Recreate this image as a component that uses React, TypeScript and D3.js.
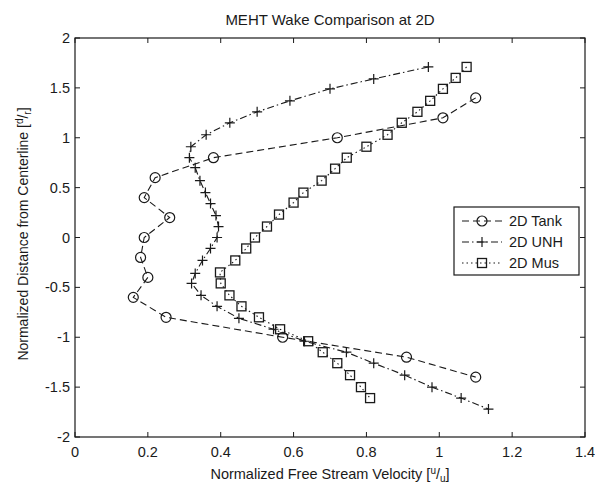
import React from 'react';
import * as d3 from 'd3';

const titleText = 'MEHT Wake Comparison at 2D';
const seriesNames = ['2D Tank', '2D UNH', '2D Mus'];

const tankX = [1.10, 1.01, 0.72, 0.38, 0.22, 0.19, 0.26, 0.19, 0.18, 0.20, 0.16, 0.25, 0.57, 0.91, 1.10];
const tankY = [1.4, 1.2, 1.0, 0.8, 0.6, 0.4, 0.2, 0.0, -0.2, -0.4, -0.6, -0.8, -1.0, -1.2, -1.4];

const unhX = [0.97, 0.82, 0.70, 0.59, 0.50, 0.425, 0.36, 0.318, 0.314, 0.33, 0.343, 0.358, 0.372, 0.387, 0.394, 0.39,
  0.372, 0.35, 0.33, 0.32, 0.346, 0.39, 0.45, 0.545, 0.63, 0.745, 0.82, 0.905, 0.98, 1.06, 1.135];
const unhY = [1.71, 1.59, 1.49, 1.37, 1.26, 1.15, 1.03, 0.91, 0.80, 0.70, 0.57, 0.45, 0.34, 0.22, 0.11, 0.0,
  -0.11, -0.23, -0.36, -0.46, -0.58, -0.69, -0.81, -0.92, -1.04, -1.15, -1.26, -1.38, -1.50, -1.61, -1.72];

const musX = [1.075, 1.045, 1.01, 0.975, 0.94, 0.897, 0.858, 0.80, 0.746, 0.714, 0.677, 0.627, 0.60, 0.56, 0.527, 0.494,
  0.47, 0.44, 0.398, 0.40, 0.424, 0.457, 0.505, 0.563, 0.64, 0.68, 0.72, 0.755, 0.785, 0.81];
const musY = [1.71, 1.60, 1.49, 1.37, 1.26, 1.15, 1.03, 0.91, 0.80, 0.69, 0.57, 0.45, 0.35, 0.23, 0.11, 0.0,
  -0.11, -0.23, -0.35, -0.46, -0.58, -0.69, -0.80, -0.92, -1.04, -1.15, -1.26, -1.38, -1.50, -1.61];

const xTicks = [0, 0.2, 0.4, 0.6, 0.8, 1, 1.2, 1.4];
const xTickLabels = ['0', '0.2', '0.4', '0.6', '0.8', '1', '1.2', '1.4'];
const yTicks = [-2, -1.5, -1, -0.5, 0, 0.5, 1, 1.5, 2];
const yTickLabels = ['-2', '-1.5', '-1', '-0.5', '0', '0.5', '1', '1.5', '2'];

const W = 595, H = 486;
const L = 75, R = 585, T = 38, B = 437;
const FONT = '"Liberation Sans", Arial, sans-serif';
const INK = '#1a1a1a';

const x = d3.scaleLinear().domain([0, 1.4]).range([L, R]);
const y = d3.scaleLinear().domain([-2, 2]).range([B, T]);

type Kind = 'circle' | 'plus' | 'square';

function Marker({ cx, cy, kind }: { cx: number; cy: number; kind: Kind }) {
  if (kind === 'circle') return <circle cx={cx} cy={cy} r={5} fill="none" stroke={INK} strokeWidth={1.2} />;
  if (kind === 'square') return <rect x={cx - 4.5} y={cy - 4.5} width={9} height={9} fill="none" stroke={INK} strokeWidth={1.3} />;
  return (
    <path d={`M${cx - 5},${cy}H${cx + 5}M${cx},${cy - 5}V${cy + 5}`} stroke={INK} strokeWidth={1.2} fill="none" />
  );
}

const series = [
  { name: seriesNames[0], xs: tankX, ys: tankY, kind: 'circle' as Kind, dash: '7,4' },
  { name: seriesNames[1], xs: unhX, ys: unhY, kind: 'plus' as Kind, dash: '7,3,1.5,3' },
  { name: seriesNames[2], xs: musX, ys: musY, kind: 'square' as Kind, dash: '1.5,3' },
];

export default function App() {
  const line = d3.line<[number, number]>().x(d => x(d[0])).y(d => y(d[1]));
  const legX = 454, legY = 207, legW = 125, legH = 68;
  return (
    <svg width={W} height={H} style={{ position: 'absolute', left: 0, top: 0, background: '#fff' }} fontFamily={FONT}>
      <rect x={0} y={0} width={W} height={H} fill="#fff" />
      <text x={330} y={25} textAnchor="middle" fontSize={15} fill={INK}>{titleText}</text>

      {series.map(s => {
        const pts = s.xs.map((v, i) => [v, s.ys[i]] as [number, number]);
        return (
          <g key={s.name}>
            <path d={line(pts) || ''} fill="none" stroke={INK} strokeWidth={1.1} strokeDasharray={s.dash} />
            {pts.map((p, i) => <Marker key={i} cx={x(p[0])} cy={y(p[1])} kind={s.kind} />)}
          </g>
        );
      })}

      <rect x={L} y={T} width={R - L} height={B - T} fill="none" stroke={INK} strokeWidth={1.2} />
      {xTicks.map((t, i) => (
        <g key={'xt' + i}>
          <line x1={x(t)} x2={x(t)} y1={B} y2={B - 5} stroke={INK} />
          <line x1={x(t)} x2={x(t)} y1={T} y2={T + 5} stroke={INK} />
          <text x={x(t)} y={457} textAnchor="middle" fontSize={14.5} fill={INK}>{xTickLabels[i]}</text>
        </g>
      ))}
      {yTicks.map((t, i) => (
        <g key={'yt' + i}>
          <line x1={L} x2={L + 5} y1={y(t)} y2={y(t)} stroke={INK} />
          <line x1={R} x2={R - 5} y1={y(t)} y2={y(t)} stroke={INK} />
          <text x={70} y={y(t) + 5} textAnchor="end" fontSize={14.5} fill={INK}>{yTickLabels[i]}</text>
        </g>
      ))}

      <text x={330} y={479} textAnchor="middle" fontSize={14.5} fill={INK}>
        Normalized Free Stream Velocity [<tspan fontSize={10} dy={-5}>u</tspan><tspan dy={5}>/</tspan><tspan fontSize={10} dy={3}>u</tspan><tspan dy={-3}>]</tspan>
      </text>
      <text transform={`translate(28,234) rotate(-90)`} textAnchor="middle" fontSize={14} fill={INK}>
        Normalized Distance from Centerline [<tspan fontSize={10} dy={-5}>d</tspan><tspan dy={5}>/</tspan><tspan fontSize={10} dy={3}>r</tspan><tspan dy={-3}>]</tspan>
      </text>

      <rect x={legX} y={legY} width={legW} height={legH} fill="#fff" stroke={INK} strokeWidth={1.2} />
      {series.map((s, i) => {
        const ly = legY + 14 + i * 21;
        return (
          <g key={'lg' + i}>
            <line x1={legX + 8} x2={legX + 48} y1={ly} y2={ly} stroke={INK} strokeWidth={1.1} strokeDasharray={s.dash} />
            <Marker cx={legX + 28} cy={ly} kind={s.kind} />
            <text x={legX + 55} y={ly + 5} fontSize={14.5} fill={INK}>{s.name}</text>
          </g>
        );
      })}
    </svg>
  );
}
